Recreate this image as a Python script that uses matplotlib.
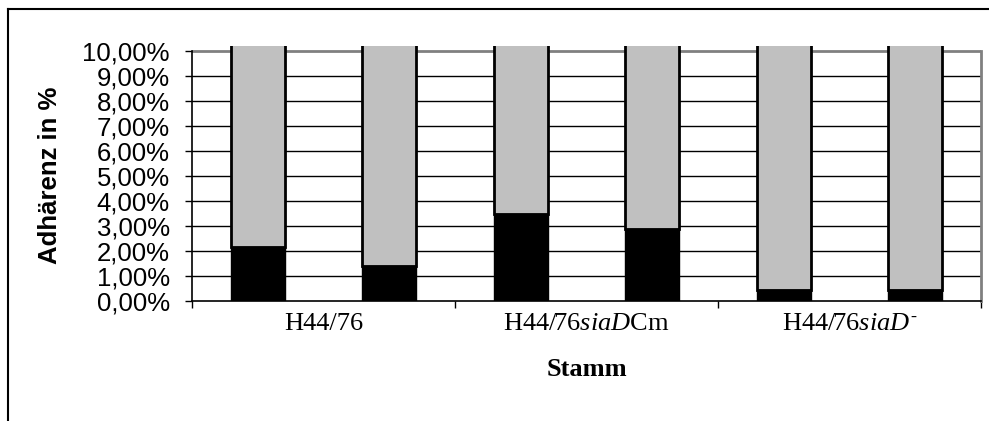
import matplotlib
matplotlib.use("Agg")
import matplotlib.pyplot as plt
from matplotlib.lines import Line2D
import numpy as np

# data
strains = ["H44/76", "H44/76$\\mathit{siaD}$Cm", "H44/76$\\mathit{siaD}^{\\text{-}}$"]
adherence_black = [0.0215, 0.0140, 0.0348, 0.0288, 0.0044, 0.0044]
adherence_total = [1.0, 1.0, 1.0, 1.0, 1.0, 1.0]
y_ticks = [0.00, 0.01, 0.02, 0.03, 0.04, 0.05, 0.06, 0.07, 0.08, 0.09, 0.10]
y_labels = ["0,00%", "1,00%", "2,00%", "3,00%", "4,00%", "5,00%",
            "6,00%", "7,00%", "8,00%", "9,00%", "10,00%"]

plt.rcParams["mathtext.fontset"] = "custom"
plt.rcParams["mathtext.rm"] = "Liberation Serif"
plt.rcParams["mathtext.it"] = "Liberation Serif:italic"
plt.rcParams["mathtext.bf"] = "Liberation Serif:bold"

W, H = 989, 421
fig = plt.figure(figsize=(W / 100, H / 100), dpi=100)
ax = fig.add_axes([192 / W, 1 - 301 / H, (981 - 192) / W, (301 - 46) / H])

x_pos = []
for i in range(len(strains)):
    x_pos.append(i - 0.249)
    x_pos.append(i + 0.249)
x_pos = np.array(x_pos)
bw = 0.205
black = np.array(adherence_black)
gray = np.array(adherence_total) - black

ax.set_xlim(-0.5, 2.5)
ax.set_ylim(0, 0.102)

for t in y_ticks[1:-1]:
    ax.axhline(t, color="black", lw=1, zorder=1)
ax.axhline(0.10, color="#808080", lw=2, zorder=1)

ax.bar(x_pos, black, width=bw, color="black", edgecolor="black", lw=1, zorder=3)
ax.bar(x_pos, gray, width=bw, bottom=black, color="#c0c0c0",
       edgecolor="black", lw=2, zorder=2)

ax.spines["top"].set_visible(False)
ax.spines["right"].set_color("#808080")
ax.spines["right"].set_linewidth(2)
ax.spines["right"].set_bounds(0, 0.10)
ax.spines["left"].set_bounds(0, 0.10)
ax.spines["left"].set_linewidth(1.2)
ax.spines["bottom"].set_linewidth(1.2)

ax.set_yticks(y_ticks)
ax.set_yticklabels(y_labels, fontfamily="Liberation Sans", fontsize=18.5)
ax.tick_params(axis="y", direction="out", length=5, width=1, pad=11)

ax.set_xticks([-0.5, 0.5, 1.5, 2.5])
ax.set_xticklabels([])
ax.set_xticks([0, 1, 2], minor=True)
ax.set_xticklabels(strains, minor=True, fontfamily="Liberation Serif", fontsize=19)
ax.tick_params(axis="x", which="major", direction="out", length=5, width=1)
ax.tick_params(axis="x", which="minor", length=0, pad=9)

fig.text(50 / W, 1 - 175 / H, "Adhärenz in %", rotation=90, ha="center", va="center",
         fontfamily="Liberation Sans", fontweight="bold", fontsize=18.5)
fig.text(586.5 / W, 1 - 370 / H, "Stamm", ha="center", va="center",
         fontfamily="Liberation Serif", fontweight="bold", fontsize=19)

# outer chart border (cut off at right and bottom)
fig.add_artist(Line2D([8 / W, 1], [1 - 9 / H, 1 - 9 / H], transform=fig.transFigure,
                      color="black", lw=1.5))
fig.add_artist(Line2D([8 / W, 8 / W], [0, 1 - 9 / H], transform=fig.transFigure,
                      color="black", lw=1.5))

fig.savefig("out.png", dpi=100)
